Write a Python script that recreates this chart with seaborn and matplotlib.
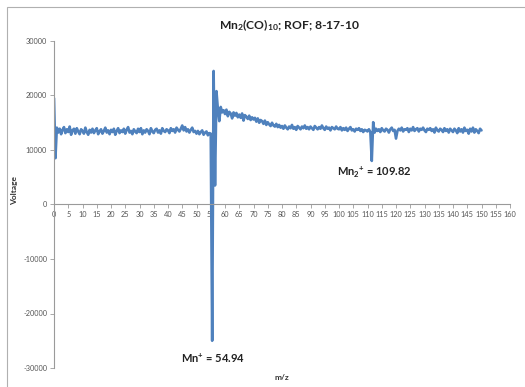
import numpy as np
import pandas as pd
import matplotlib
matplotlib.use("Agg")
import matplotlib.pyplot as plt
import seaborn as sns
from matplotlib.patches import Rectangle

sns.set_theme(style="white")
plt.rcParams['font.family'] = ['Lato', 'DejaVu Sans']
plt.rcParams['mathtext.default'] = 'regular'

title_text = r"Mn$_2$(CO)$_{10}$; ROF; 8-17-10"
x_label = "m/z"
y_label = "Voltage"
peak1_label = r"Mn$^{+}$ = 54.94"
peak2_label = r"Mn$_2{}^{+}$ = 109.82"

x_ticks = list(range(0, 161, 5))
y_ticks = [-30000, -20000, -10000, 0, 10000, 20000, 30000]

# voltage, every 0.5 m/z from 0 to 150
v_000_010 = [19500, 8500, 14100, 13200, 13900, 12900, 13700, 14200, 13100, 13800,
             13300, 14300, 12800, 13600, 13900, 13000, 14000, 13400, 12900, 13800]
v_010_020 = [13500, 13000, 14100, 13300, 12800, 13700, 13200, 13900, 13100, 13600,
             14000, 12900, 13400, 13800, 13000, 13500, 14100, 13200, 13600, 12900]
v_020_030 = [13700, 13300, 13900, 12800, 13500, 14000, 13100, 13600, 13300, 13900,
             13000, 13700, 14200, 13200, 13500, 12900, 13800, 13400, 13100, 13900]
v_030_040 = [13300, 14000, 12900, 13600, 13200, 13800, 13500, 12900, 14000, 13400,
             13100, 13700, 13900, 13200, 13600, 13000, 14000, 13500, 13300, 13800]
v_040_050 = [13600, 13100, 14000, 13500, 13800, 13200, 14100, 13700, 13400, 13900,
             14500, 13600, 14200, 13400, 13800, 13200, 13700, 14100, 13300, 13500]
v_050_060 = [13000, 13500, 12900, 13300, 13600, 12800, 13200, 13400, 12700, 13100,
             13000, -25000, 24500, 3500, 20800, 17500, 15300, 17900, 16900, 17300]
v_060_070 = [16600, 17400, 16200, 17000, 16700, 15800, 16900, 16300, 16800, 16000,
             16500, 15900, 16700, 15400, 16400, 16100, 15700, 16300, 15500, 16000]
v_070_080 = [15600, 15900, 15200, 15800, 15000, 15500, 15300, 14800, 15400, 14600,
             15100, 14700, 14400, 15000, 14500, 14300, 14800, 14200, 14600, 14100]
v_080_090 = [14400, 13900, 14500, 14100, 13800, 14300, 14000, 14600, 13900, 14200,
             13700, 14400, 14100, 13800, 14300, 14000, 14500, 13900, 14200, 13800]
v_090_100 = [14300, 14000, 13700, 14400, 14100, 13800, 14200, 13900, 14500, 14000,
             13700, 14300, 13900, 14100, 13600, 14200, 14000, 13800, 14300, 13900]
v_100_110 = [13800, 14200, 13600, 14000, 13700, 14100, 13500, 13900, 14200, 13600,
             13800, 13400, 13900, 13700, 14000, 13500, 13800, 13300, 13700, 13600]
v_110_120 = [13400, 13800, 13300, 8000, 15100, 13200, 13900, 13500, 13800, 13300,
             14000, 13600, 13400, 13900, 13700, 13200, 13800, 14100, 13500, 13700]
v_120_130 = [12100, 13500, 13900, 13600, 14100, 13400, 13800, 13700, 14000, 13300,
             13900, 13600, 14200, 13500, 13800, 14000, 13400, 13900, 13700, 14100]
v_130_140 = [13600, 13300, 13900, 13700, 14000, 13500, 13800, 13200, 14100, 13600,
             13400, 13900, 13700, 13300, 14000, 13500, 13800, 13200, 13900, 13600]
v_140_150 = [13300, 13900, 13600, 13100, 14000, 13400, 13800, 13200, 14100, 13500,
             13700, 13000, 13900, 13400, 14100, 13200, 13800, 13500, 13100, 13900]
v_150 = [13600]

voltage = (v_000_010 + v_010_020 + v_020_030 + v_030_040 + v_040_050 + v_050_060 +
           v_060_070 + v_070_080 + v_080_090 + v_090_100 + v_100_110 + v_110_120 +
           v_120_130 + v_130_140 + v_140_150 + v_150)
mz = np.linspace(0, 150, len(voltage))

df = pd.DataFrame({"mz": mz, "voltage": voltage})

fig = plt.figure(figsize=(5.25, 3.87), dpi=100)
fig.patch.set_facecolor("white")
ax = fig.add_axes([54/525, 1 - 368/387, (510 - 54)/525, (368 - 41)/387])

line_color = "#4f81bd"
sns.lineplot(data=df, x="mz", y="voltage", ax=ax, color=line_color,
             linewidth=1.9, estimator=None, sort=False)

ax.set_xlim(0, 160)
ax.set_ylim(-30000, 30000)
ax.set_xticks(x_ticks)
ax.set_yticks(y_ticks)
ax.set_xticklabels([str(t) for t in x_ticks])
ax.set_yticklabels([str(t) for t in y_ticks])

axis_color = "#9a9a9a"
for s in ["top", "right"]:
    ax.spines[s].set_visible(False)
ax.spines["bottom"].set_position(("data", 0))
ax.spines["bottom"].set_color(axis_color)
ax.spines["left"].set_color(axis_color)
ax.spines["bottom"].set_linewidth(0.8)
ax.spines["left"].set_linewidth(0.8)
ax.tick_params(axis="both", which="both", direction="out", length=3, width=0.6,
               color=axis_color, labelsize=5.3, labelcolor="#555555", pad=2)
ax.tick_params(axis="x", bottom=True)
ax.tick_params(axis="y", left=True)
ax.set_xlabel("")
ax.set_ylabel("")
ax.grid(False)

fig.text(290/525, 1 - 25/387, title_text, ha="center", va="center",
         fontsize=8.7, fontweight="bold", color="#222222")
fig.text(282/525, 1 - 377/387, x_label, ha="center", va="center",
         fontsize=6, fontweight="bold", color="#333333")
fig.text(15/525, 1 - 190/387, y_label, ha="center", va="center", rotation=90,
         fontsize=6, fontweight="bold", color="#333333")

ax.text(112.3, 5900, peak2_label, ha="center", va="center",
        fontsize=8, fontweight="bold", color="#222222")
ax.text(55.8, -28200, peak1_label, ha="center", va="center",
        fontsize=8, fontweight="bold", color="#222222")

border = Rectangle((7/525, -0.1), 1.2, 1 - 7/387 + 0.1, transform=fig.transFigure,
                   fill=False, edgecolor="#b0b0b0", linewidth=0.8)
fig.patches.append(border)

fig.savefig("out.png", dpi=100)
